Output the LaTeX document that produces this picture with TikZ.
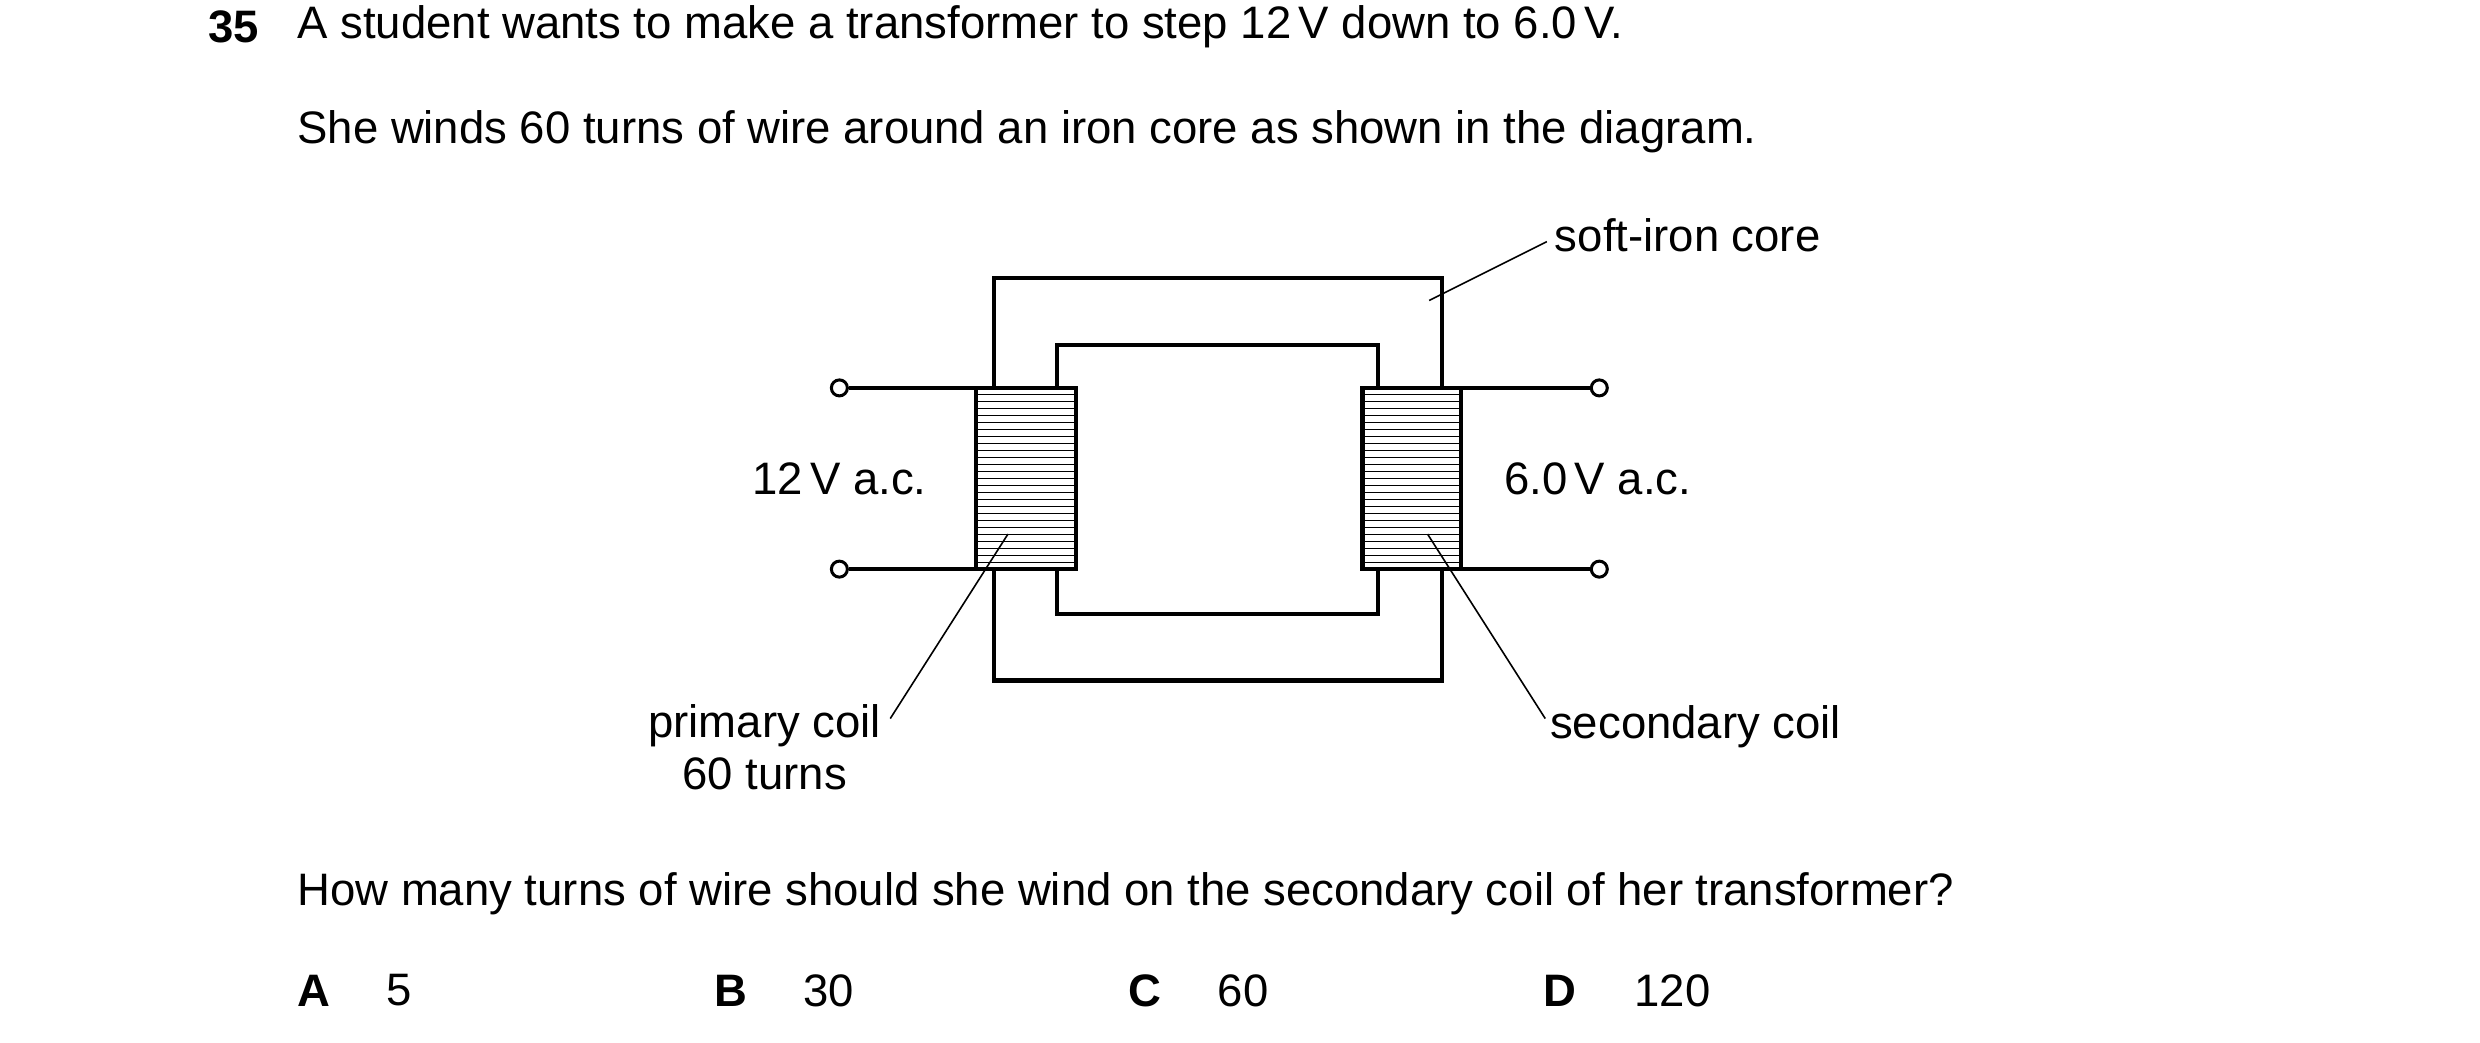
\documentclass[tikz,border=0pt]{standalone}
\usepackage{fontspec}
\setmainfont{Liberation Sans}
\begin{document}
\begin{tikzpicture}[x=1.5897pt,y=-1.5897pt,
  core/.style={line width=4.2pt},
  hatch/.style={line width=1.1pt},
  lead/.style={line width=1.6pt},
  term/.style={circle,draw,line width=3pt,minimum size=16pt,inner sep=0pt,fill=white},
  txt/.style={font=\fontsize{45.5}{54}\selectfont,inner sep=0pt},
  bf/.style={font=\fontsize{45.5}{54}\selectfont\bfseries},
  every node/.append style={txt}]
\useasboundingbox (0,0) rectangle (1560,656);
% core
\draw[core] (625,244) -- (625,175) -- (907,175) -- (907,244);
\draw[core] (625,358) -- (625,428) -- (907,428) -- (907,358);
\draw[core] (665,244) -- (665,217) -- (867,217) -- (867,244);
\draw[core] (665,358) -- (665,386) -- (867,386) -- (867,358);
% coils
\foreach \i in {1,...,25} {
  \draw[hatch] (614,{244+\i*114/26}) -- (677,{244+\i*114/26});
  \draw[hatch] (857,{244+\i*114/26}) -- (919,{244+\i*114/26});
}
\draw[core] (614,244) rectangle (677,358);
\draw[core] (857,244) rectangle (919,358);
% terminals
\node[term] (t1) at (528,244) {};
\node[term] (t2) at (528,358) {};
\node[term] (t3) at (1006,244) {};
\node[term] (t4) at (1006,358) {};
\coordinate (p1) at (614,244); \coordinate (p2) at (614,358);
\coordinate (s1) at (919,244); \coordinate (s2) at (919,358);
\draw[core] (t1) -- (p1); \draw[core] (t2) -- (p2);
\draw[core] (t3) -- (s1); \draw[core] (t4) -- (s2);
% labels
\node[anchor=east] (v1) at (583,301) {12\,V a.c.};
\node[anchor=west] (v2) at (946,301) {6.0\,V a.c.};
\node[anchor=west] (lc) at (978,148) {soft-iron core};
\coordinate (lc0) at (899,189); \coordinate (lc1) at (973,152);
\draw[lead] (lc0) -- (lc1);
\node[align=center,anchor=north] (pc) at (481,443) {primary coil\\[-2pt]60 turns};
\coordinate (pc0) at (634,336); \coordinate (pc1) at (560,452);
\draw[lead] (pc0) -- (pc1);
\node[anchor=west] (sc) at (975,457) {secondary coil};
\coordinate (sc0) at (898,336); \coordinate (sc1) at (972,452);
\draw[lead] (sc0) -- (sc1);
% question text
\node[anchor=west,bf] (n) at (131,17) {35};
\node[anchor=west] (q1) at (187,17) {A student wants to make a transformer to step 12\,V down to 6.0\,V.};
\node[anchor=west] (q2) at (187,83) {She winds 60 turns of wire around an iron core as shown in the diagram.};
\node[anchor=west] (q3) at (187,562) {How many turns of wire should she wind on the secondary coil of her transformer?};
\node[anchor=west,bf] (oa) at (187,623) {A};
\node[anchor=west] (va) at (243,623) {5};
\node[anchor=west,bf] (ob) at (449,623) {B};
\node[anchor=west] (vb) at (505,623) {30};
\node[anchor=west,bf] (oc) at (710,623) {C};
\node[anchor=west] (vc) at (766,623) {60};
\node[anchor=west,bf] (od) at (971,623) {D};
\node[anchor=west] (vd) at (1028,623) {120};
\end{tikzpicture}
\end{document}
